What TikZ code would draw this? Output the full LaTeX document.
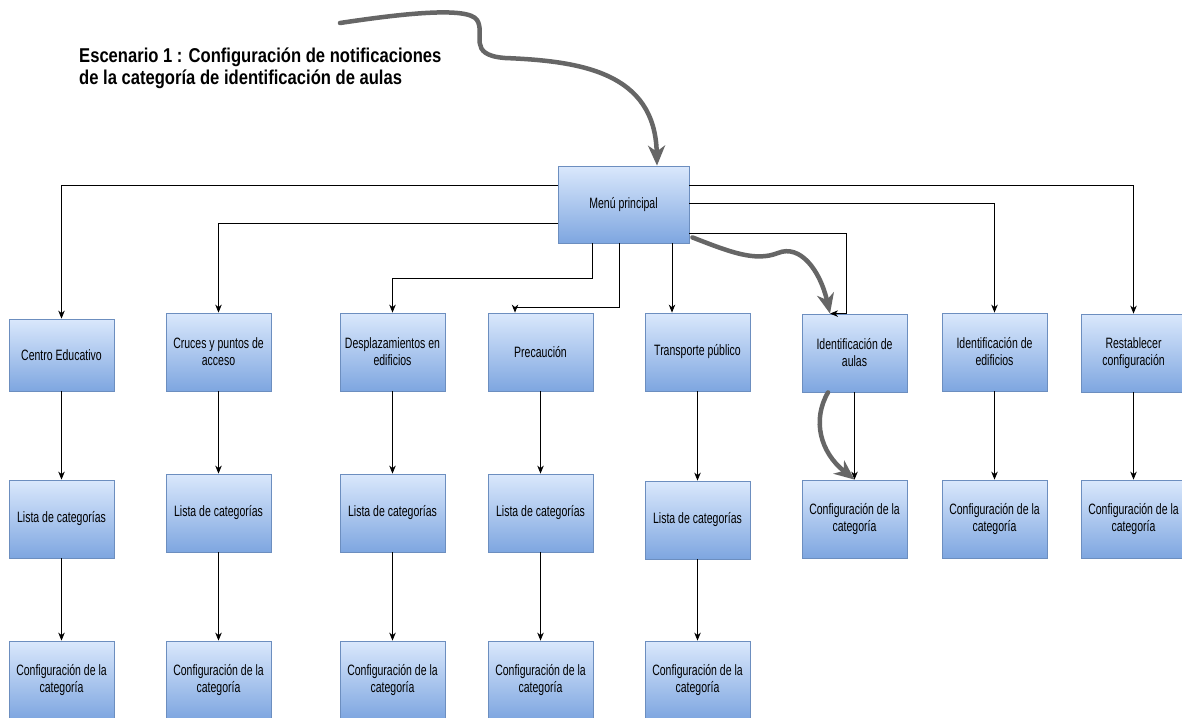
\documentclass[tikz,border=0pt]{standalone}
\usepackage{fontspec}
\setmainfont{Liberation Sans}
\newfontfamily\boxfont{Liberation Sans}[FakeStretch=0.70]
\newfontfamily\titlefont{Liberation Sans}[FakeStretch=0.83]
\usetikzlibrary{arrows.meta}
\definecolor{boxtop}{HTML}{DAE8FC}
\definecolor{boxbot}{HTML}{7EA6E0}
\definecolor{boxline}{HTML}{6C8EBF}
\definecolor{sketch}{HTML}{666666}
\begin{document}
\begin{tikzpicture}[x=1pt,y=-1pt,
  box/.style={draw=boxline, line width=0.8pt, top color=boxtop, bottom color=boxbot,
    minimum width=105pt, minimum height=78pt, inner sep=0pt, align=center,
    font=\boxfont\fontsize{15}{17}\selectfont},
  conn/.style={draw=black, line width=0.9pt, -{Stealth[length=8pt,width=6.5pt,inset=2.5pt]}},
  sketchy/.style={draw=sketch, line width=4.5pt, line cap=round,
    -{Stealth[length=20pt,width=17pt,inset=6pt]}},
  titletext/.style={anchor=base west, inner sep=0pt,
    font=\titlefont\bfseries\fontsize{20}{20}\selectfont}]
\useasboundingbox (0,0) rectangle (1182,717);
\fill[white] (0,0) rectangle (1182,717);
\clip (0,0) rectangle (1182,717);

% title
\node[titletext] (t1) at (79,63) {Escenario 1 : Configuración de notificaciones};
\node[titletext] (t2) at (79,84) {de la categoría de identificación de aulas};

% main menu
\node[box, minimum width=131pt, minimum height=77pt] (menu) at (623.5,204.5) {Menú principal};

% row 1
\node[box, minimum height=72pt] (centro) at (61.5,355) {Centro Educativo};
\node[box] (cruces) at (218.5,352) {Cruces y puntos de\\acceso};
\node[box] (despl) at (392.5,352) {Desplazamientos en\\edificios};
\node[box] (prec) at (540.5,352) {Precaución};
\node[box] (trans) at (697.5,352) {Transporte público};
\node[box] (aulas) at (854.5,353) {Identificación de\\aulas};
\node[box] (edif) at (994.5,352) {Identificación de\\edificios};
\node[box] (rest) at (1133.5,353) {Restablecer\\configuración};

% row 2
\node[box] (centroL) at (61.5,519) {Lista de categorías};
\node[box] (crucesL) at (218.5,513) {Lista de categorías};
\node[box] (desplL) at (392.5,513) {Lista de categorías};
\node[box] (precL) at (540.5,513) {Lista de categorías};
\node[box] (transL) at (697.5,520) {Lista de categorías};
\node[box] (aulasC) at (854.5,519) {Configuración de la\\categoría};
\node[box] (edifC) at (994.5,519) {Configuración de la\\categoría};
\node[box] (restC) at (1133.5,519) {Configuración de la\\categoría};

% row 3
\node[box] (centroC) at (61.5,680) {Configuración de la\\categoría};
\node[box] (crucesC) at (218.5,680) {Configuración de la\\categoría};
\node[box] (desplC) at (392.5,680) {Configuración de la\\categoría};
\node[box] (precC) at (540.5,680) {Configuración de la\\categoría};
\node[box] (transC) at (697.5,680) {Configuración de la\\categoría};

% connectors from the menu
\draw[conn] ([yshift=19.5pt]menu.west) -| (centro.north);
\draw[conn] ([yshift=-18.5pt]menu.west) -| (cruces.north);
\draw[conn] ([xshift=-31.5pt]menu.south) -- ++(0,35) -| (despl.north);
\draw[conn] ([xshift=-4.5pt]menu.south) -- ++(0,64) -| ([xshift=-25.5pt]prec.north);
\draw[conn] ([xshift=48.5pt]menu.south) -- ([xshift=-25.5pt]trans.north);
\draw[conn] ([yshift=19.5pt]menu.east) -| (rest.north);
\draw[conn] ([yshift=1.5pt]menu.east) -| (edif.north);
\draw[conn] ([yshift=-28.5pt]menu.east) -| ([xshift=-8.5pt]aulas.north) -- ([xshift=-24.5pt]aulas.north);

% vertical connectors
\foreach \a/\b in {centro/centroL, cruces/crucesL, despl/desplL, prec/precL, trans/transL,
  aulas/aulasC, edif/edifC, rest/restC,
  centroL/centroC, crucesL/crucesC, desplL/desplC, precL/precC, transL/transC}
  \draw[conn] (\a.south) -- (\b.north);

% sketchy path arrows
\coordinate (s0) at (340,23);
\draw[sketchy] (s0) .. controls (400,14) and (468,6) .. (477,20)
  .. controls (486,34) and (466,55) .. (505,58)
  .. controls (580,61) and (655,72) .. ([xshift=33.5pt]menu.north);
\draw[sketchy] ([xshift=3pt,yshift=6pt]menu.south east) .. controls (730,252) and (755,262) .. (778,253)
  .. controls (800,244) and (820,270) .. ([xshift=-24.5pt]aulas.north);
\draw[sketchy] ([xshift=-26.5pt]aulas.south) .. controls (812,420) and (820,452) .. (aulasC.north);
\end{tikzpicture}
\end{document}
